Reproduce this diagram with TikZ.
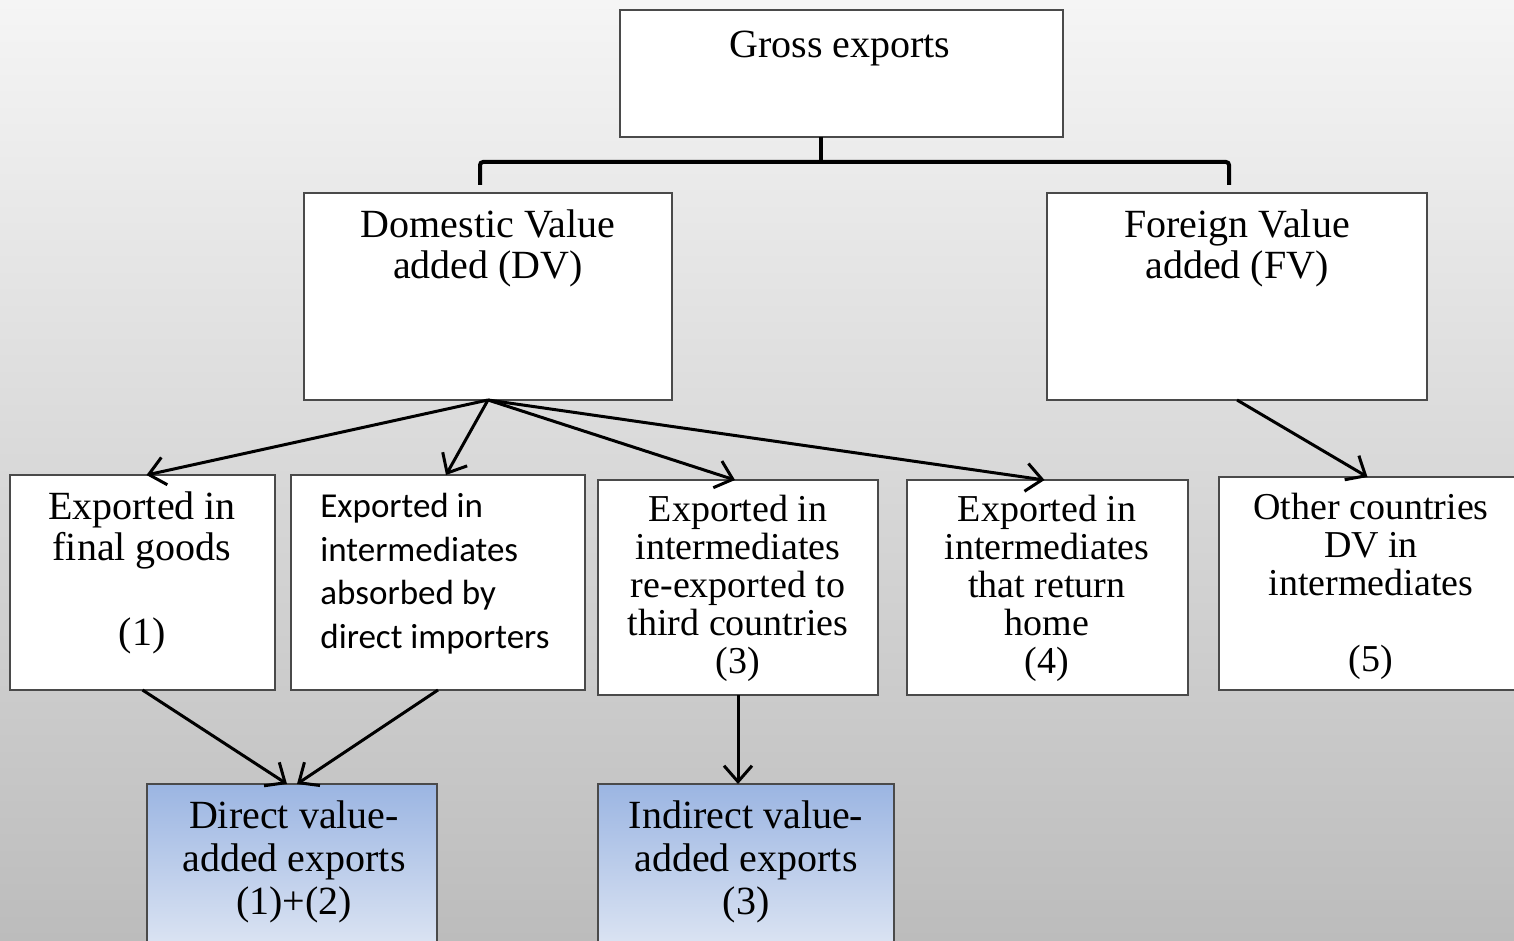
\documentclass[tikz,border=0pt]{standalone}
\usepackage{fontspec}
\setmainfont{Liberation Serif}
\newfontfamily\carlitofont{Carlito}
\usetikzlibrary{arrows.meta}
\definecolor{bgtop}{HTML}{F5F5F5}
\definecolor{bgbot}{HTML}{BCBCBC}
\definecolor{bluetop}{HTML}{9BB5E2}
\definecolor{bluebot}{HTML}{DDE5F3}
\definecolor{edgecol}{HTML}{4A4A4A}
\newcommand\tstr{\vrule height 15pt width 0pt depth 0pt\relax}
\begin{document}
\begin{tikzpicture}[x=0.5pt,y=-0.5pt,
  box/.style={draw=edgecol, line width=1pt, fill=white, inner sep=0pt, outer sep=0pt},
  bluebox/.style={draw=edgecol, line width=1pt, inner sep=0pt, outer sep=0pt, top color=bluetop, bottom color=bluebot},
  lbl/.style={inner sep=0pt, anchor=north, align=center, font=\fontsize{20}{20.5}\selectfont},
  lblsmall/.style={inner sep=0pt, anchor=north, align=center, font=\fontsize{19}{19}\selectfont},
  lblsans/.style={inner sep=0pt, anchor=north west, align=left, font=\carlitofont\fontsize{17.5}{21.8}\selectfont},
  bracket/.style={line width=2pt, rounded corners=1.5pt},
  arr/.style={line width=1.5pt, -{Straight Barb[length=8pt,width=14pt,line width=1.5pt]}}
]
\useasboundingbox (0,0) rectangle (1514,941);
\shade[top color=bgtop, bottom color=bgbot] (0,0) rectangle (1514,941);

% boxes
\node[box, minimum width=221.5pt, minimum height=63.5pt] (ge) at (841.5,73.5) {};
\node[box, minimum width=184pt, minimum height=103.5pt] (dv) at (488,296.5) {};
\node[box, minimum width=190pt, minimum height=103.5pt] (fv) at (1237,296.5) {};
\node[box, minimum width=132.5pt, minimum height=107.5pt] (b1) at (142.5,582.5) {};
\node[box, minimum width=147pt, minimum height=107.5pt] (b2) at (438,582.5) {};
\node[box, minimum width=140pt, minimum height=107.5pt] (b3) at (738,587.5) {};
\node[box, minimum width=140.5pt, minimum height=107.5pt] (b4) at (1047.5,587.5) {};
\node[box, minimum width=148.5pt, minimum height=106.5pt] (b5) at (1367.5,583.5) {};
\node[bluebox, minimum width=145pt, minimum height=83pt] (d1) at (292,867) {};
\node[bluebox, minimum width=148pt, minimum height=83pt] (d2) at (746,867) {};

% texts
\node[lbl] (ge-t) at (840,27) {\tstr Gross exports};
\node[lbl] (dv-t) at (488,207) {\tstr Domestic Value\\added (DV)};
\node[lbl] (fv-t) at (1237,207) {\tstr Foreign Value\\added (FV)};
\node[lbl] (b1-t) at (142,489) {\tstr Exported in\\final goods\\[22pt](1)};
\node[lblsans] (b2-t) at (320,487) {\tstr Exported in\\intermediates\\absorbed by\\direct importers};
\node[lblsmall] (b3-t) at (738,491) {\tstr Exported in\\intermediates\\re-exported to\\third countries\\(3)};
\node[lblsmall] (b4-t) at (1047,491) {\tstr Exported in\\intermediates\\that return\\home\\(4)};
\node[lblsmall] (b5-t) at (1371,489) {\tstr Other countries\\DV in\\intermediates\\[19pt](5)};
\node[lbl, font=\fontsize{20}{21.5}\selectfont] (d1-t) at (294,798) {\tstr Direct value-\\added exports\\(1)+(2)};
\node[lbl, font=\fontsize{20}{21.5}\selectfont] (d2-t) at (746,798) {\tstr Indirect value-\\added exports\\(3)};

% bracket connector
\draw[bracket] ([xshift=-4pt,yshift=4pt]dv.north) |- ([xshift=-10.5pt,yshift=-12.5pt]ge.south) -| ([xshift=-4pt,yshift=4pt]fv.north);
\draw[bracket] ([xshift=-10.5pt]ge.south) -- ([xshift=-10.5pt,yshift=-12.5pt]ge.south);

% arrows
\draw[arr] (dv.south) -- ([xshift=2pt]b1.north);
\draw[arr] (dv.south) -- ([xshift=4pt]b2.north);
\draw[arr] (dv.south) -- ([xshift=-1.5pt]b3.north);
\draw[arr] (dv.south) -- ([xshift=-1.5pt]b4.north);
\draw[arr] (fv.south) -- (b5.north);
\draw[arr] (b1.south) -- ([xshift=-2.5pt]d1.north);
\draw[arr] (b2.south) -- ([xshift=2.5pt]d1.north);
\draw[arr] (b3.south) -- (b3.south |- d2.north);
\end{tikzpicture}
\end{document}
